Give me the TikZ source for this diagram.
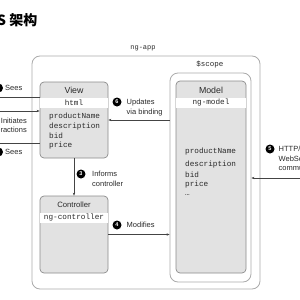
\documentclass[tikz,border=0pt]{standalone}
\usepackage{fontspec}
\setmainfont{Liberation Sans}
\setmonofont{Liberation Mono}
\newfontfamily\cjk{Noto Sans CJK SC}
\usetikzlibrary{arrows.meta}
\definecolor{boxfill}{HTML}{E2E2E2}
\definecolor{boxline}{HTML}{8C8C8C}
\definecolor{outline}{HTML}{ABABAB}
\definecolor{conn}{HTML}{444444}
\definecolor{txt}{HTML}{2A2A2A}
\tikzset{
  outerbox/.style={draw=outline, line width=0.8pt, rounded corners=8pt},
  compbox/.style={draw=boxline, fill=boxfill, line width=0.7pt, rounded corners=4pt},
  band/.style={fill=white, inner sep=0pt},
  mono/.style={font=\fontsize{7.7}{9.6}\selectfont\ttfamily, text=txt, inner sep=0pt},
  lbl/.style={font=\fontsize{7.5}{9.5}\selectfont, text=txt, inner sep=0pt},
  numc/.style={circle, fill=black, text=white, inner sep=0pt, minimum size=9pt, font=\fontsize{5.5}{6}\selectfont\bfseries},
  conn/.style={draw=conn, line width=0.6pt},
  arr/.style={conn, -{Stealth[length=3pt,width=2.4pt]}},
}
\begin{document}
\begin{tikzpicture}[x=1pt,y=-1pt]
\useasboundingbox (0,0) rectangle (300,300);
\clip (0,0) rectangle (300,300);
\fill[white] (0,0) rectangle (300,300);

% title
\node[anchor=east, inner sep=0pt, font=\cjk\bfseries\fontsize{14}{16}\selectfont] (title) at (37.5,20) {S 架构};

% ng-app
\node[mono, font=\fontsize{7}{8}\selectfont\ttfamily] (ngapp) at (143,48) {ng-app};
\draw[outerbox] (32,56) rectangle (260,289);

% $scope
\node[mono, font=\fontsize{7.5}{8}\selectfont\ttfamily] (scopelbl) at (210,65) {\$scope};
\node[outerbox, minimum width=81pt, minimum height=209pt, inner sep=0pt] (scope) at (210.5,177.5) {};

% View
\node[compbox, minimum width=68pt, minimum height=76pt, inner sep=0pt] (view) at (74,120) {};
\fill[white] (40.4,98) rectangle (107.6,108);
\node[lbl, font=\fontsize{8.8}{10}\selectfont] (viewt) at (74,90) {View};
\node[mono] (html) at (74,103) {html};
\node[mono, anchor=west] (v1) at (49,117) {productName};
\node[mono, anchor=west] (v2) at (49,126.5) {description};
\node[mono, anchor=west] (v3) at (49,136) {bid};
\node[mono, anchor=west] (v4) at (49,146) {price};

% Controller
\node[compbox, minimum width=68pt, minimum height=77pt, inner sep=0pt] (ctrl) at (74,234.5) {};
\fill[white] (40.4,213) rectangle (107.6,223);
\node[lbl, font=\fontsize{7.7}{9}\selectfont] (ctrlt) at (74,205) {Controller};
\node[mono] (ngc) at (74,218) {ng-controller};

% Model
\node[compbox, minimum width=70pt, minimum height=192pt, inner sep=0pt] (model) at (211,177) {};
\fill[white] (176.4,98) rectangle (245.6,107.5);
\node[lbl, font=\fontsize{8.8}{10}\selectfont] (modelt) at (211,90) {Model};
\node[mono] (ngm) at (211,103) {ng-model};
\node[mono, anchor=west] (m1) at (185,152) {productName};
\node[mono, anchor=west] (m2) at (185,165) {description};
\node[mono, anchor=west] (m3) at (185,175) {bid};
\node[mono, anchor=west] (m4) at (185,185) {price};
\node[mono, anchor=west] (m5) at (185,195) {…};

% connectors
\coordinate (u1) at (0,97);
\coordinate (u2) at (0,111);
\coordinate (u7) at (0,143);
\coordinate (r5) at (300,178);
\draw[conn] (u1) -- (view.west |- u1);
\draw[arr] (u2) -- (view.west |- u2);
\draw[conn] (u7) -- (view.west |- u7);
\draw[arr] (view.south) -- (ctrl.north);
\draw[arr] (ctrl.east) -- (scope.west |- ctrl.east);
\draw[arr] (scope.west |- view.east) -- (view.east);
\draw[arr] (r5) -- (scope.east |- r5);

% labels
\node[numc] (n1) at (-1.5,88) {1};
\node[lbl, anchor=west] (l1) at (5,88) {Sees};
\node[lbl, anchor=east, align=right] (l2) at (27,125.5) {Initiates\\interactions};
\node[numc] (n7) at (-1.5,152) {7};
\node[lbl, anchor=west] (l7) at (5,152) {Sees};
\node[numc] (n6) at (117,102) {6};
\node[lbl, anchor=west, align=left] (l6) at (126.5,107.5) {Updates\\via binding};
\node[numc] (n3) at (81,174) {3};
\node[lbl, anchor=west, align=left] (l3) at (92,179) {Informs\\controller};
\node[numc] (n4) at (117,225) {4};
\node[lbl, anchor=west] (l4) at (126.5,225) {Modifies};
\node[numc] (n5) at (270,149) {5};
\node[lbl, anchor=west, align=left] (l5) at (278.5,158.5) {HTTP/\\WebSocket\\communications};
\end{tikzpicture}
\end{document}
